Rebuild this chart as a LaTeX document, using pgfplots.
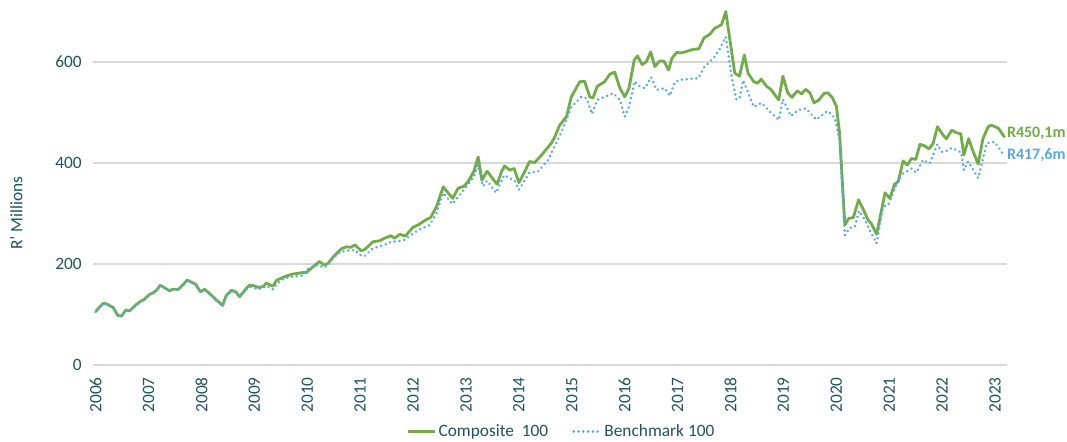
\documentclass[border=0pt]{standalone}
\usepackage{pgfplots}
\pgfplotsset{compat=1.18}
\usepackage{fontspec}
\setmainfont{Carlito}
\definecolor{teal}{RGB}{28,84,98}
\definecolor{cgreen}{RGB}{112,173,71}
\definecolor{cblue}{RGB}{86,170,228}
\definecolor{gridgray}{RGB}{217,217,217}
\begin{document}
\begin{tikzpicture}
\useasboundingbox (-69.75pt,-57.75pt) rectangle (730.5pt,273.75pt);
\begin{axis}[
  at={(0pt,0pt)}, anchor=south west,
  scale only axis, width=685.3pt, height=265.1pt,
  xmin=2005.95, xmax=2023.22, ymin=0, ymax=700,
  xtick={2006,2007,...,2023}, ytick={0,200,400,600},
  /pgf/number format/1000 sep={},
  /pgf/number format/assume math mode=true,
  axis line style={draw=none}, tick style={draw=none},
  ymajorgrids, grid style={gridgray, line width=0.9pt},
  ticklabel style={font=\fontsize{13}{15}\selectfont, text=teal},
  yticklabel style={xshift=-5pt},
  xticklabel style={rotate=90, anchor=east, inner sep=0pt},
  xticklabel shift=9pt,
  ylabel={R' Millions},
  ylabel style={at={(axis description cs:-0.084,0.43)}, anchor=center, font=\fontsize{13}{15}\selectfont, text=teal},
  clip=false,
  legend style={at={(0.513,0)}, anchor=center, yshift=-50pt, draw=none, fill=none,
    legend columns=2, font=\fontsize{13}{15}\selectfont, text=teal,
    /tikz/every even column/.append style={column sep=16pt}},
  legend image code/.code={\draw[#1] (0pt,0pt) -- (20pt,0pt);},
]
\addplot[cgreen, line width=2.1pt, line join=round] coordinates {
(2006.00,106) (2006.14,122) (2006.21,121) (2006.33,114) (2006.42,98) (2006.49,97)
(2006.57,109) (2006.64,107) (2006.76,119) (2006.86,127) (2006.91,129) (2007.01,139)
(2007.10,144) (2007.15,148) (2007.22,158) (2007.40,147) (2007.46,150) (2007.57,150)
(2007.73,168) (2007.89,160) (2007.98,145) (2008.06,150) (2008.15,142) (2008.28,129)
(2008.40,118) (2008.47,138) (2008.57,148) (2008.65,145) (2008.72,135) (2008.84,151)
(2008.91,158) (2008.99,157) (2009.06,154) (2009.16,155) (2009.23,162) (2009.35,156)
(2009.42,168) (2009.60,176) (2009.72,180) (2009.91,183) (2009.98,183) (2010.14,197)
(2010.23,205) (2010.32,198) (2010.39,201) (2010.49,214) (2010.64,230) (2010.74,234)
(2010.82,233) (2010.90,238) (2011.02,226) (2011.09,229) (2011.24,244) (2011.37,246)
(2011.46,251) (2011.58,256) (2011.65,251) (2011.75,259) (2011.85,255) (2012.00,273)
(2012.09,277) (2012.25,288) (2012.33,292) (2012.44,313) (2012.57,353) (2012.66,341)
(2012.75,330) (2012.85,350) (2012.96,354) (2013.04,363) (2013.15,384) (2013.23,412)
(2013.30,366) (2013.40,384) (2013.51,368) (2013.59,358) (2013.67,383) (2013.73,394)
(2013.83,386) (2013.91,389) (2014.00,361) (2014.11,383) (2014.20,403) (2014.30,401)
(2014.43,416) (2014.61,439) (2014.68,452) (2014.77,475) (2014.90,492) (2014.99,531)
(2015.15,561) (2015.24,562) (2015.34,531) (2015.40,529) (2015.48,552) (2015.62,561)
(2015.72,576) (2015.81,580) (2015.91,548) (2016.00,531) (2016.08,548) (2016.18,604)
(2016.24,612) (2016.33,595) (2016.41,601) (2016.49,620) (2016.57,591) (2016.66,602)
(2016.74,602) (2016.83,584) (2016.89,607) (2016.98,619) (2017.07,618) (2017.20,622)
(2017.29,625) (2017.40,626) (2017.50,648) (2017.61,655) (2017.70,667) (2017.76,670)
(2017.83,674) (2017.91,700) (2018.08,578) (2018.17,572) (2018.26,614) (2018.33,578)
(2018.44,561) (2018.51,558) (2018.58,566) (2018.68,552) (2018.76,546) (2018.91,525)
(2018.99,572) (2019.08,539) (2019.16,530) (2019.26,543) (2019.34,537) (2019.42,546)
(2019.50,539) (2019.58,519) (2019.67,525) (2019.77,538) (2019.84,539) (2019.92,530)
(2020.00,513) (2020.06,459) (2020.16,277) (2020.23,290) (2020.32,292) (2020.42,327)
(2020.50,310) (2020.60,287) (2020.66,280) (2020.76,259) (2020.92,341) (2021.01,330)
(2021.10,358) (2021.17,363) (2021.26,404) (2021.34,396) (2021.42,409) (2021.50,407)
(2021.58,437) (2021.67,434) (2021.75,428) (2021.83,439) (2021.91,472) (2022.02,455)
(2022.08,448) (2022.18,465) (2022.27,460) (2022.35,458) (2022.41,416) (2022.50,448)
(2022.58,424) (2022.68,398) (2022.77,448) (2022.87,472) (2022.93,475) (2023.06,469)
(2023.18,451)
};
\addlegendentry{Composite\ \ 100}
\addplot[cblue, line width=2.1pt, line cap=round, dash pattern=on 0.01pt off 3.6pt] coordinates {
(2006.00,105) (2006.14,121) (2006.21,120) (2006.33,113) (2006.42,97) (2006.49,96)
(2006.57,108) (2006.64,106) (2006.76,118) (2006.86,126) (2006.91,128) (2007.01,138)
(2007.10,143) (2007.15,147) (2007.22,157) (2007.40,146) (2007.46,149) (2007.57,149)
(2007.73,167) (2007.89,159) (2007.98,144) (2008.06,149) (2008.15,141) (2008.28,128)
(2008.40,117) (2008.47,137) (2008.57,147) (2008.65,144) (2008.72,134) (2008.84,149)
(2008.91,155) (2008.99,153) (2009.06,150) (2009.16,152) (2009.23,157) (2009.35,150)
(2009.42,160) (2009.57,172) (2009.72,175) (2009.91,177) (2010.01,190) (2010.17,198)
(2010.33,193) (2010.58,221) (2010.71,226) (2010.90,228) (2010.99,218) (2011.09,216)
(2011.24,231) (2011.46,238) (2011.59,244) (2011.78,246) (2011.84,248) (2012.09,267)
(2012.31,277) (2012.44,300) (2012.57,341) (2012.74,319) (2012.91,340) (2013.15,373)
(2013.22,396) (2013.32,354) (2013.40,365) (2013.57,341) (2013.72,376) (2013.92,365)
(2014.00,347) (2014.20,381) (2014.36,383) (2014.55,406) (2014.70,438) (2014.80,460)
(2014.99,511) (2015.18,531) (2015.28,528) (2015.38,497) (2015.48,525) (2015.78,538)
(2015.91,525) (2016.00,492) (2016.08,511) (2016.19,562) (2016.28,552) (2016.38,548)
(2016.50,570) (2016.60,545) (2016.76,548) (2016.85,533) (2016.95,561) (2017.07,565)
(2017.39,568) (2017.51,591) (2017.70,610) (2017.80,627) (2017.91,650) (2018.02,571)
(2018.11,526) (2018.17,528) (2018.24,564) (2018.30,548) (2018.44,511) (2018.58,519)
(2018.74,502) (2018.91,485) (2018.99,526) (2019.14,493) (2019.28,505) (2019.43,508)
(2019.62,486) (2019.83,503) (2019.97,490) (2020.06,445) (2020.16,257) (2020.25,271)
(2020.35,274) (2020.43,305) (2020.54,287) (2020.63,267) (2020.76,241) (2020.88,313)
(2020.98,317) (2021.17,366) (2021.26,379) (2021.42,389) (2021.51,381) (2021.64,406)
(2021.76,399) (2021.91,437) (2021.99,422) (2022.11,425) (2022.18,430) (2022.36,421)
(2022.41,386) (2022.49,403) (2022.68,370) (2022.84,439) (2022.99,442) (2023.15,418)
};
\addlegendentry{Benchmark 100}
\node[anchor=west, inner sep=0pt, text=cgreen, font=\fontsize{12}{14}\selectfont\bfseries] at (axis cs:2023.22,458) {R450,1m};
\node[anchor=west, inner sep=0pt, text=cblue, font=\fontsize{12}{14}\selectfont\bfseries] at (axis cs:2023.22,416) {R417,6m};
\end{axis}
\end{tikzpicture}
\end{document}
